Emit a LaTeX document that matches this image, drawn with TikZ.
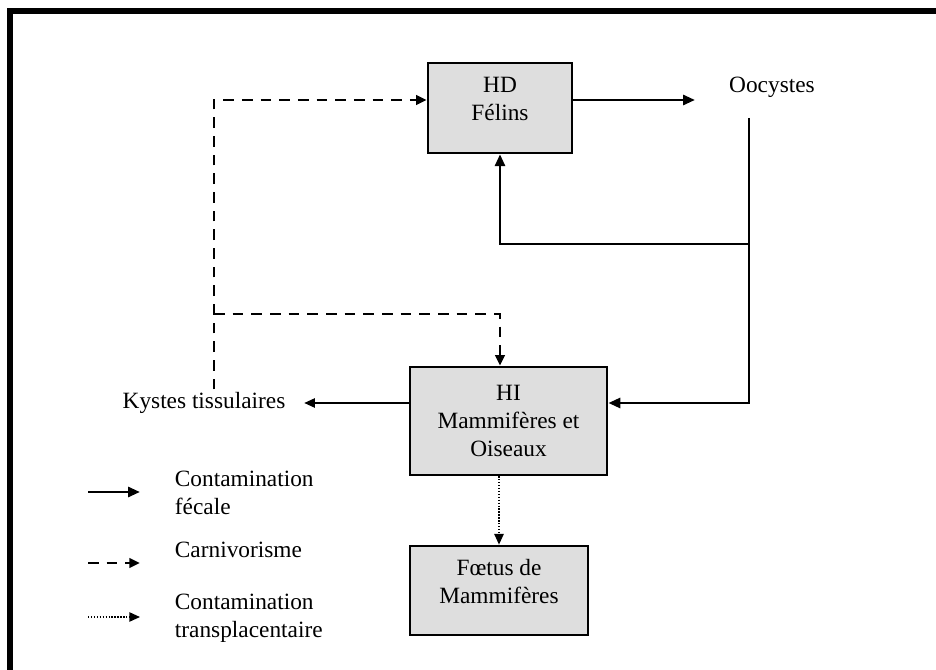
\documentclass[tikz,border=0pt]{standalone}
\usepackage{fontspec}
\setmainfont{Liberation Serif}
\usetikzlibrary{arrows.meta, calc}

\begin{document}
\begin{tikzpicture}[x=0.75pt, y=-0.75pt,
          font=\fontsize{17.5}{21}\selectfont,
          host/.style={draw, line width=1.8pt, fill=black!13, align=center, inner sep=0pt},
          raised/.style={text depth=13pt},
          txt/.style={align=center, inner sep=2pt},
          fecal/.style={-{Triangle[length=9pt,width=7.5pt]}, line width=2.1pt},
          thinarrow/.style={-{Triangle[length=8pt,width=7pt]}, line width=1.1pt},
          carni/.style={-{Triangle[length=8pt,width=7pt]}, line width=2pt, dash pattern=on 8pt off 6pt},
          transp/.style={-{Triangle[length=8pt,width=7pt]}, line width=1.1pt, dash pattern=on 1pt off 1.2pt}]
          \useasboundingbox (0,0) rectangle (936,670);

          % Frame
          \draw[line width=4.5pt] (10,670) -- (10,11) -- (936,11);

          % Nodes
          \node[host, raised, minimum width=108pt, minimum height=67.5pt] (hd) at (500,108) {HD\\Félins};
          \node[txt] (oocystes) at (772,87) {Oocystes};
          \node[host, minimum width=148pt, minimum height=81pt] (hi) at (508.5,421) {HI\\Mammifères et\\Oiseaux};
          \node[host, raised, minimum width=133.5pt, minimum height=67pt] (foetus) at (499,590.5) {Fœtus de\\Mammifères};
          \node[txt] (kystes) at (204,403) {Kystes tissulaires};

          \coordinate (ocin) at (695,100);
          \coordinate (ocdown) at (749,118);
          \coordinate (split) at (749,244);
          \coordinate (corner) at (214,100);
          \coordinate (meet) at (214,314);

          % Cycle
          \draw[fecal] ([yshift=6pt]hd.east) -- (ocin);
          \draw[fecal] (ocdown) |- ([yshift=13.5pt]hi.east);
          \draw[fecal] (split) -| (hd.south);
          \draw[thinarrow] ([yshift=13.5pt]hi.west) -- ([xshift=12pt]kystes.east);
          \draw[carni] (kystes.north -| corner) -- (corner) -- ([yshift=6pt]hd.west);
          \draw[carni] (meet) -| (hd.south |- hi.north);
          \draw[transp] (hi.south -| foetus.north) -- (foetus.north);

          % Legend
          \coordinate (l1a) at (88,492);
          \coordinate (l1b) at (140,492);
          \coordinate (l2a) at (88,563);
          \coordinate (l2b) at (140,563);
          \coordinate (l3a) at (88,617);
          \coordinate (l3b) at (140,617);
          \draw[fecal] (l1a) -- (l1b);
          \draw[carni] (l2a) -- (l2b);
          \draw[transp] (l3a) -- (l3b);
          \node[txt, anchor=west, align=left] (leg1) at (172,493) {Contamination\\fécale};
          \node[txt, anchor=west, align=left] (leg2) at (172,550) {Carnivorisme};
          \node[txt, anchor=west, align=left] (leg3) at (172,618) {Contamination\\transplacentaire};
        \end{tikzpicture}
\end{document}
